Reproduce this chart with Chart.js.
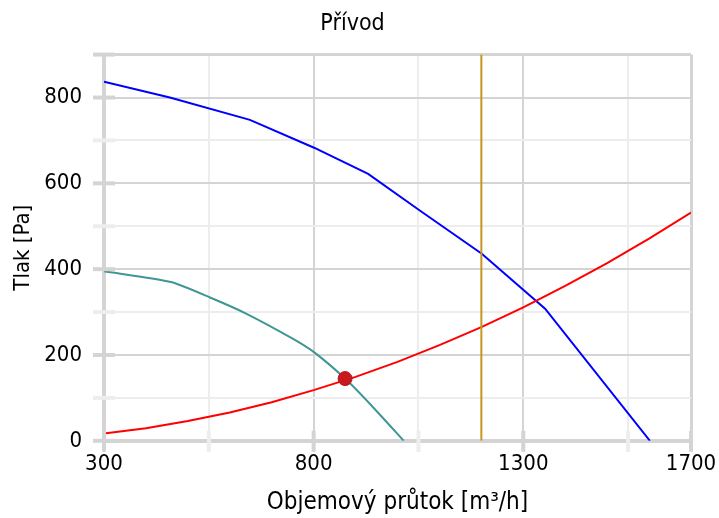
<!DOCTYPE html>
<html>
<head>
<meta charset="utf-8">
<script src="https://cdn.jsdelivr.net/npm/chart.js@4"></script>
<style>
  html, body { margin: 0; padding: 0; background: #fff; }
  #wrap { width: 719px; height: 518px; }
</style>
</head>
<body>
<div id="wrap"><canvas id="fanChart" width="719" height="518"></canvas></div>
<script>
// Křivka ventilátoru (max. otáčky)
const flowFan = [300, 457, 648, 801, 930, 1054, 1201, 1352, 1602];
const pressFan = [837, 800, 748, 683, 622, 536, 436, 308, 0];

// Křivka ventilátoru (pracovní otáčky)
const flowFanWork = [300, 460, 553, 640, 750, 803, 875, 940, 1015];
const pressFanWork = [395, 370, 334, 296, 238, 205, 145, 80, 0];

// Charakteristika potrubí
const flowDuct = [300, 400, 500, 600, 700, 800, 900, 1000, 1100, 1200, 1300, 1400, 1500, 1600, 1700];
const pressDuct = [17, 29, 46, 66, 90, 118, 149, 184, 223, 265, 311, 361, 414, 471, 532];

// Požadovaný průtok
const flowLimit = [1200, 1200];
const pressLimit = [0, 900];

// Pracovní bod
const flowPoint = [875];
const pressPoint = [145];

const xTicks = [300, 550, 800, 1050, 1300, 1550, 1700];
const xLabels = [300, 800, 1300, 1700];
const yLabels = [0, 200, 400, 600, 800];

const FONT = '"DejaVu Sans Condensed", "Liberation Sans", sans-serif';

const toXY = (xs, ys) => xs.map((x, i) => ({ x: x, y: ys[i] }));

const lineSet = (xs, ys, color, tension) => ({
    data: toXY(xs, ys),
    showLine: true,
    borderColor: color,
    borderWidth: 2,
    pointRadius: 0,
    tension: tension || 0,
    fill: false
});

const majorGrid = '#d4d4d4';
const minorGrid = '#ededed';

// krátké značky přes osu
const tickMarks = {
    id: 'tickMarks',
    afterDraw(chart) {
        const ctx = chart.ctx;
        const xs = chart.scales.x, ys = chart.scales.y;
        const area = chart.chartArea;
        ctx.save();
        ctx.lineWidth = 4;
        xTicks.forEach(v => {
            const px = xs.getPixelForValue(v);
            ctx.strokeStyle = xLabels.includes(v) ? majorGrid : minorGrid;
            ctx.beginPath();
            ctx.moveTo(px, area.bottom - 10);
            ctx.lineTo(px, area.bottom + 11);
            ctx.stroke();
        });
        for (let v = 0; v <= 900; v += 100) {
            const py = ys.getPixelForValue(v);
            ctx.strokeStyle = (yLabels.includes(v) || v === 900) ? majorGrid : minorGrid;
            ctx.beginPath();
            ctx.moveTo(area.left - 11, py);
            ctx.lineTo(area.left + 11, py);
            ctx.stroke();
        }
        ctx.restore();
    }
};

const ctx = document.getElementById('fanChart').getContext('2d');
const fanChart = new Chart(ctx, {
    type: 'scatter',
    data: {
        datasets: [
            {
                data: toXY(flowPoint, pressPoint),
                pointRadius: 7,
                pointBackgroundColor: '#c81a1e',
                pointBorderColor: '#b81418',
                pointBorderWidth: 1,
                order: 0
            },
            Object.assign(lineSet(flowLimit, pressLimit, '#c8961e'), { order: 1 }),
            Object.assign(lineSet(flowDuct, pressDuct, '#ff0000'), { order: 2 }),
            Object.assign(lineSet(flowFanWork, pressFanWork, '#3f9696', 0.2), { order: 3 }),
            Object.assign(lineSet(flowFan, pressFan, '#0000ff'), { order: 4 })
        ]
    },
    options: {
        responsive: false,
        maintainAspectRatio: false,
        animation: false,
        layout: {
            padding: { left: 0, right: 14, top: 4, bottom: 1 }
        },
        plugins: {
            legend: { display: false },
            tooltip: { enabled: false },
            title: {
                display: true,
                text: 'Přívod',
                color: '#000',
                font: { family: FONT, size: 23, weight: 'normal' },
                padding: { top: 6, bottom: 17 }
            }
        },
        scales: {
            x: {
                type: 'linear',
                min: 300,
                max: 1700,
                afterBuildTicks: axis => {
                    axis.ticks = xTicks.map(v => ({ value: v }));
                },
                afterFit: scale => { scale.paddingRight = 28; },
                ticks: {
                    autoSkip: false,
                    maxRotation: 0,
                    padding: 10,
                    color: '#000',
                    font: { family: FONT, size: 22 },
                    callback: v => xLabels.includes(v) ? String(v) : ''
                },
                grid: {
                    drawTicks: false,
                    color: c => (c.tick && (xLabels.includes(c.tick.value))) ? majorGrid : minorGrid,
                    lineWidth: c => (c.tick && c.tick.value === 1700) ? 3 : 2
                },
                border: { color: majorGrid, width: 4 },
                title: {
                    display: true,
                    text: 'Objemový průtok [m³/h]',
                    color: '#000',
                    font: { family: FONT, size: 24 },
                    padding: { top: 1, bottom: 0 }
                }
            },
            y: {
                type: 'linear',
                min: 0,
                max: 900,
                afterFit: scale => { scale.width = 104; },
                ticks: {
                    stepSize: 100,
                    autoSkip: false,
                    padding: 22,
                    color: '#000',
                    font: { family: FONT, size: 22 },
                    callback: v => yLabels.includes(v) ? String(v) : ''
                },
                grid: {
                    drawTicks: false,
                    color: c => (c.tick && (yLabels.includes(c.tick.value) || c.tick.value === 900)) ? majorGrid : minorGrid,
                    lineWidth: c => (c.tick && c.tick.value === 900) ? 3 : 2
                },
                border: { color: majorGrid, width: 4 },
                title: {
                    display: true,
                    text: 'Tlak [Pa]',
                    color: '#000',
                    font: { family: FONT, size: 22 },
                    padding: { top: 10, bottom: 0 }
                }
            }
        }
    },
    plugins: [tickMarks]
});
</script>
</body>
</html>
